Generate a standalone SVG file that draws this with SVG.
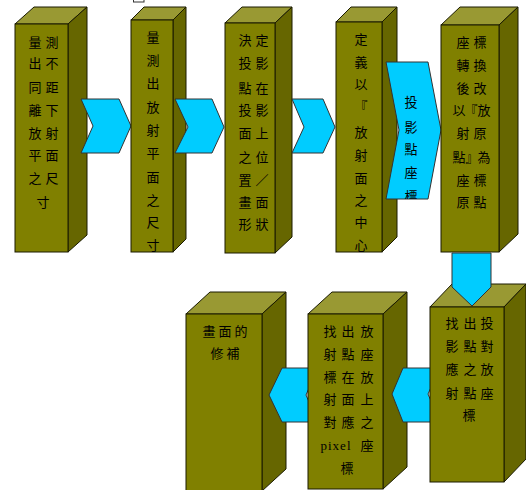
<svg xmlns="http://www.w3.org/2000/svg" width="526" height="490" viewBox="0 0 526 490">
<style>
.front{fill:#808000;stroke:#1a1a00;stroke-width:1}
.top{fill:#999933;stroke:#1a1a00;stroke-width:1}
.side{fill:#666600;stroke:#1a1a00;stroke-width:1}
.arrow{fill:#00CCFF;stroke:#333333;stroke-width:1}
text{font-family:"Noto Sans CJK TC","Noto Sans CJK SC",sans-serif;font-size:13px;fill:#000;text-anchor:middle}
.lat{font-family:"Liberation Serif",serif;letter-spacing:1px}
</style>
<defs>
<clipPath id="clipA"><polygon points="386,62 428,62 441,130 428,199 386,199 399,130"/></clipPath>
</defs>
<rect x="133.5" y="-4" width="10.5" height="6" fill="#fff" stroke="#333" stroke-width="1"/>

<g id="node1">
<polygon class="top" points="15,24 34,7 87,7 68,24"/>
<polygon class="side" points="68,24 87,7 87,235 68,252"/>
<rect class="front" x="15" y="24" width="53" height="228"/>
<text><tspan x="35 52" y="47">量測</tspan><tspan x="35 52" y="68">出不</tspan><tspan x="35 52" y="92">同距</tspan><tspan x="35 52" y="115">離下</tspan><tspan x="35 52" y="138">放射</tspan><tspan x="35 52" y="160">平面</tspan><tspan x="35 52" y="183">之尺</tspan><tspan x="43" y="207">寸</tspan></text>
</g>

<g id="connectors-top">
<polygon id="arrow1" class="arrow" points="81,99 119,99 131,126 119,153 81,153 93,126"/>
</g>

<g id="node2">
<polygon class="top" points="131,20 144,7 186,7 173,20"/>
<polygon class="side" points="173,20 186,7 186,239 173,252"/>
<rect class="front" x="131" y="20" width="42" height="232"/>
<text x="153"><tspan x="153" y="42">量</tspan><tspan x="153" y="65">測</tspan><tspan x="153" y="88">出</tspan><tspan x="153" y="112">放</tspan><tspan x="153" y="135">射</tspan><tspan x="153" y="158">平</tspan><tspan x="153" y="182">面</tspan><tspan x="153" y="205">之</tspan><tspan x="153" y="227">尺</tspan><tspan x="153" y="250">寸</tspan></text>
</g>

<g id="connectors-2">
<polygon id="arrow2" class="arrow" points="175,99 212,99 224,127 212,153 175,153 188,127"/>
</g>

<g id="node3">
<polygon class="top" points="225,23 242,7 292,7 275,23"/>
<polygon class="side" points="275,23 292,7 292,237 275,253"/>
<rect class="front" x="225" y="23" width="50" height="230"/>
<text><tspan x="245 262" y="45">決定</tspan><tspan x="245 262" y="68">投影</tspan><tspan x="245 262" y="93">點在</tspan><tspan x="245 262" y="115">投影</tspan><tspan x="245 262" y="138">面上</tspan><tspan x="245 262" y="162">之位</tspan><tspan x="245 262" y="185">置／</tspan><tspan x="245 262" y="207">畫面</tspan><tspan x="245 262" y="229">形狀</tspan></text>
</g>

<g id="connectors-3">
<polygon id="arrow3" class="arrow" points="292,99 323,99 335,127 323,153 292,153 304,127"/>
</g>

<g id="node4">
<polygon class="top" points="336,22 351,7 397,7 382,22"/>
<polygon class="side" points="382,22 397,7 397,237 382,252"/>
<rect class="front" x="336" y="22" width="46" height="230"/>
<text><tspan x="361" y="44">定</tspan><tspan x="361" y="67">義</tspan><tspan x="361" y="89">以</tspan><tspan x="361" y="111">『</tspan><tspan x="361" y="137">放</tspan><tspan x="361" y="160">射</tspan><tspan x="361" y="183">面</tspan><tspan x="361" y="205">之</tspan><tspan x="361" y="227">中</tspan><tspan x="361" y="250">心</tspan></text>
</g>

<g id="connectors-4">
<polygon id="arrow4" class="arrow" points="386,62 428,62 441,130 428,199 386,199 399,130"/>
<text clip-path="url(#clipA)"><tspan x="411" y="107">投</tspan><tspan x="411" y="132">影</tspan><tspan x="411" y="154">點</tspan><tspan x="411" y="177">座</tspan><tspan x="411" y="201">標</tspan></text>
</g>

<g id="node5">
<polygon class="top" points="441,25 460,7 518,7 499,25"/>
<polygon class="side" points="499,25 518,7 518,234 499,252"/>
<rect class="front" x="441" y="25" width="58" height="227"/>
<text><tspan x="463 480" y="47">座標</tspan><tspan x="463 480" y="70">轉換</tspan><tspan x="463 480" y="93">後改</tspan><tspan x="459 471 484" y="115">以『放</tspan><tspan x="463 480" y="138">射原</tspan><tspan x="459 472 484" y="162">點』為</tspan><tspan x="463 480" y="185">座標</tspan><tspan x="463 480" y="207">原點</tspan></text>
</g>

<g id="node8">
<polygon class="top" points="186,314 210,292 286,292 262,314"/>
<polygon class="side" points="262,314 286,292 286,469 262,491"/>
<rect class="front" x="186" y="314" width="76" height="177"/>
<text><tspan x="209 225 241" y="336">畫面的</tspan><tspan x="217 233" y="358">修補</tspan></text>
</g>

<g id="connectors-bottom-1">
<polygon id="arrow6" class="arrow" points="269,395 282,368 318,368 306,395 318,422 282,422"/>
</g>

<g id="node7">
<polygon class="top" points="308,314 332,292 407,292 383,314"/>
<polygon class="side" points="383,314 407,292 407,467 383,489"/>
<rect class="front" x="308" y="314" width="75" height="175"/>
<text><tspan x="330 348 367" y="336">找出放</tspan><tspan x="330 348 367" y="359">射點座</tspan><tspan x="330 348 367" y="382">標在放</tspan><tspan x="330 348 367" y="404">射面上</tspan><tspan x="330 348 367" y="427">對應之</tspan><tspan class="lat" x="336" y="450">pixel</tspan><tspan x="367" y="450">座</tspan><tspan x="347" y="473">標</tspan></text>
</g>

<g id="connectors-bottom-2">
<polygon id="arrow5" class="arrow" points="392,394 403,368 440,368 428,394 440,422 403,422"/>
</g>

<g id="node6">
<polygon class="top" points="430,307 452,284 526,284 504,307"/>
<polygon class="side" points="504,307 526,284 526,459 504,482"/>
<rect class="front" x="430" y="307" width="74" height="175"/>
<text><tspan x="452 470 487" y="328">找出投</tspan><tspan x="452 470 487" y="351">影點對</tspan><tspan x="452 470 487" y="374">應之放</tspan><tspan x="452 470 487" y="398">射點座</tspan><tspan x="469" y="420">標</tspan></text>
</g>

<g id="connectors-down">
<polygon id="arrowDown" class="arrow" points="452,253 491,253 491,287 472,306 452,287"/>
</g>
</svg>
